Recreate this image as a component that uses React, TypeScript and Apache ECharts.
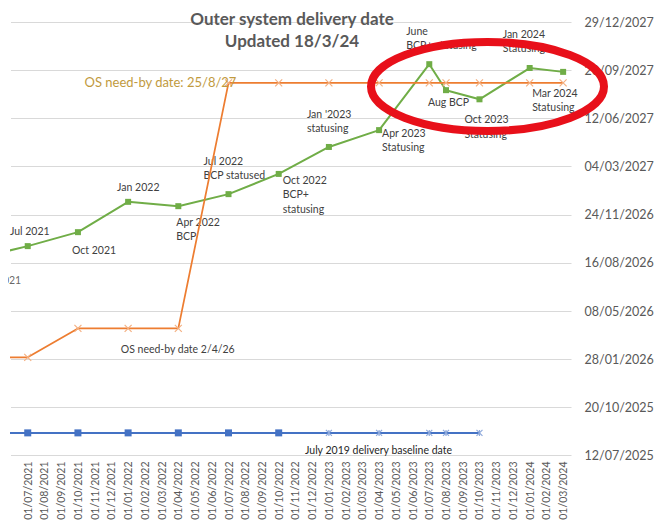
import React, { useEffect, useRef } from 'react';
import * as echarts from 'echarts';

// ---------- axis tick labels ----------
const xTickLabels = [
  '01/06/2021', '01/07/2021', '01/08/2021', '01/09/2021', '01/10/2021', '01/11/2021', '01/12/2021',
  '01/01/2022', '01/02/2022', '01/03/2022', '01/04/2022', '01/05/2022', '01/06/2022',
  '01/07/2022', '01/08/2022', '01/09/2022', '01/10/2022', '01/11/2022', '01/12/2022',
  '01/01/2023', '01/02/2023', '01/03/2023', '01/04/2023', '01/05/2023', '01/06/2023',
  '01/07/2023', '01/08/2023', '01/09/2023', '01/10/2023', '01/11/2023', '01/12/2023',
  '01/01/2024', '01/02/2024', '01/03/2024',
];
const xFirstMonth = '2021-06';
const yTickLabels = [
  '12/07/2025', '20/10/2025', '28/01/2026', '08/05/2026', '16/08/2026',
  '24/11/2026', '04/03/2027', '12/06/2027', '20/09/2027', '29/12/2027',
];
const yAxisOrigin = '2025-07-12';
const yStepDays = 100;

// ---------- series: forecast delivery date (green) ----------
const forecastMonths = [
  '2021-04', '2021-07', '2021-10', '2022-01', '2022-04', '2022-07', '2022-10',
  '2023-01', '2023-04', '2023-07', '2023-08', '2023-10', '2024-01', '2024-03',
];
const forecastDates = [
  '2026-08-26', '2026-09-20', '2026-10-19', '2026-12-21', '2026-12-12', '2027-01-06', '2027-02-17',
  '2027-04-14', '2027-05-19', '2027-10-03', '2027-08-10', '2027-07-22', '2027-09-25', '2027-09-17',
];
const forecastLabels = [
  'Apr 2021', 'Jul 2021', 'Oct 2021', 'Jan 2022', 'Apr 2022\nBCP', 'Jul 2022\nBCP statused',
  'Oct 2022\nBCP+\nstatusing', "Jan '2023\nstatusing", 'Apr 2023\nStatusing', 'June\nBCP+ statusing',
  'Aug BCP', 'Oct 2023\nStatusing', 'Jan 2024\nStatusing', 'Mar 2024\nStatusing',
];

// ---------- series: OS need-by date (orange) ----------
const needByMonths = [
  '2021-04', '2021-07', '2021-10', '2022-01', '2022-04', '2022-07', '2022-10',
  '2023-01', '2023-04', '2023-07', '2023-08', '2023-10', '2024-01', '2024-03',
];
const needByDates = [
  '2026-02-01', '2026-02-01', '2026-04-02', '2026-04-02', '2026-04-02', '2027-08-25', '2027-08-25',
  '2027-08-25', '2027-08-25', '2027-08-25', '2027-08-25', '2027-08-25', '2027-08-25', '2027-08-25',
];
const needByLabels: (string | null)[] = [
  null, null, null, null, 'OS need-by date 2/4/26', 'OS need-by date: 25/8/27', null,
  null, null, null, null, null, null, null,
];

// ---------- series: July 2019 delivery baseline (blue) ----------
const baselineMonths = [
  '2021-04', '2021-07', '2021-10', '2022-01', '2022-04', '2022-07', '2022-10',
  '2023-01', '2023-04', '2023-07', '2023-08', '2023-10',
];
const baselineDates = [
  '2025-08-28', '2025-08-28', '2025-08-28', '2025-08-28', '2025-08-28', '2025-08-28', '2025-08-28',
  '2025-08-28', '2025-08-28', '2025-08-28', '2025-08-28', '2025-08-28',
];
const baselineMarkers = [
  'square', 'square', 'square', 'square', 'square', 'square', 'square',
  'star', 'star', 'star', 'star', 'star',
];
const baselineLabels: (string | null)[] = [
  null, null, null, null, null, null, null, null, 'July 2019 delivery baseline date', null, null, null,
];

// ---------- styling / layout (not data) ----------
const FONT = 'Lato, "Open Sans", sans-serif';
const GREEN = '#70AD47';
const ORANGE = '#ED7D31';
const ORANGE_MARK = '#F4B183';
const BLUE = '#4472C4';
const BLUE_MARK = '#8FAADC';
const TEXT = '#404040';
const AXIS_TEXT = '#595959';
const X_PATH = 'path://M0,0L10,10M10,0L0,10';
const STAR_PATH = 'path://M0,0L10,10M10,0L0,10M5,0L5,10';

// label offsets: [dx, dy, align] relative to the point centre (dy = top of text)
const forecastLabelLayout: [number, number, string][] = [
  [0, 14.5, 'left'], [2, -22.5, 'center'], [-6, 10.5, 'left'], [-11, -22.5, 'left'],
  [-2, 8.5, 'left'], [-25, -40.5, 'left'], [4, -1.5, 'left'], [-22, -40.5, 'left'],
  [3, -4.5, 'left'], [-23, -40.5, 'left'], [-18, 4.5, 'left'], [-15, 12.5, 'left'],
  [-27, -41.5, 'left'], [-31, 13.5, 'left'],
];

const DAY = 86400000;
const parseUTC = (s: string) => {
  const [y, m, d] = s.split('-').map(Number);
  return Date.UTC(y, m - 1, d || 1);
};
const toDays = (s: string) => Math.round((parseUTC(s) - parseUTC(yAxisOrigin)) / DAY);
const toMonthIdx = (s: string) => {
  const [y, m] = s.split('-').map(Number);
  const [y0, m0] = xFirstMonth.split('-').map(Number);
  return (y - y0) * 12 + (m - m0);
};

const smallLabel = { fontFamily: FONT, fontSize: 10.5, color: TEXT, lineHeight: 14.5 };

export default function App() {
  const ref = useRef<HTMLDivElement>(null);
  useEffect(() => {
    if (!ref.current) return;
    const chart = echarts.init(ref.current, null, { renderer: 'svg' });

    const greenSize = 6;
    const greenData = forecastMonths.map((mo, i) => {
      const [dx, dy, align] = forecastLabelLayout[i];
      return {
        value: [toMonthIdx(mo), toDays(forecastDates[i])],
        label: {
          show: i > 0,
          formatter: forecastLabels[i],
          position: [dx + greenSize / 2, dy + greenSize / 2],
          align,
          verticalAlign: 'top',
          ...smallLabel,
        },
      };
    });
    // label of the point that lies left of the plot area (its marker and line are clipped)
    const clippedLabelData = [0].map((i) => {
      const [dx, dy, align] = forecastLabelLayout[i];
      return {
        value: [toMonthIdx(forecastMonths[i]), toDays(forecastDates[i])],
        label: {
          show: true,
          formatter: forecastLabels[i],
          position: [dx + greenSize / 2, dy + greenSize / 2],
          align,
          verticalAlign: 'top',
          ...smallLabel,
        },
      };
    });

    const orangeSize = 7;
    const orangeData = needByMonths.map((mo, i) => {
      const item: any = { value: [toMonthIdx(mo), toDays(needByDates[i])] };
      const txt = needByLabels[i];
      if (txt && txt.includes(':')) {
        item.label = {
          show: true, formatter: txt, position: [orangeSize / 2 + 8.5, orangeSize / 2],
          align: 'right', verticalAlign: 'middle', fontFamily: FONT, fontSize: 13, color: '#C19A3E',
        };
      } else if (txt) {
        item.label = {
          show: true, formatter: txt, position: [orangeSize / 2, orangeSize / 2 + 13.5],
          align: 'center', verticalAlign: 'top', ...smallLabel,
        };
      }
      return item;
    });

    const blueData = baselineMonths.map((mo, i) => {
      const isSquare = baselineMarkers[i] === 'square';
      const size = isSquare ? 7 : 6;
      const item: any = {
        value: [toMonthIdx(mo), toDays(baselineDates[i])],
        symbol: isSquare ? 'rect' : STAR_PATH,
        symbolSize: size,
        itemStyle: isSquare
          ? { color: BLUE, borderWidth: 0 }
          : { color: BLUE_MARK, borderColor: BLUE_MARK, borderWidth: 1.2 },
      };
      const txt = baselineLabels[i];
      if (txt) {
        item.label = {
          show: true, formatter: txt, position: [size / 2, size / 2 + 10.5],
          align: 'center', verticalAlign: 'top', ...smallLabel, color: '#262626',
        };
      }
      return item;
    });

    chart.setOption({
      animation: false,
      backgroundColor: '#ffffff',
      title: {
        text: 'Outer system delivery date\nUpdated 18/3/24',
        left: 287,
        top: 2,
        textAlign: 'center',
        textStyle: { fontFamily: FONT, fontSize: 17, fontWeight: 'bold', color: AXIS_TEXT, lineHeight: 22 },
      },
      grid: { left: 11, right: 84.5, top: 22.3, bottom: 66.5, containLabel: false, outerBoundsMode: 'none' },
      xAxis: {
        type: 'value',
        min: 0,
        max: xTickLabels.length - 0.5,
        interval: 1,
        axisLine: { show: false },
        axisTick: { show: false },
        splitLine: { show: false },
        axisLabel: {
          rotate: 90,
          margin: 6,
          fontFamily: FONT,
          fontSize: 10.5,
          color: AXIS_TEXT,
          formatter: (v: number) => (Number.isInteger(v) && v >= 1 && v < xTickLabels.length ? xTickLabels[v] : ''),
        },
      },
      yAxis: {
        type: 'value',
        position: 'right',
        min: 0,
        max: (yTickLabels.length - 1) * yStepDays,
        interval: yStepDays,
        axisLine: { show: false },
        axisTick: { show: false },
        splitLine: { show: true, lineStyle: { color: '#D9D9D9', width: 1 } },
        axisLabel: {
          margin: 13,
          fontFamily: FONT,
          fontSize: 12.5,
          color: AXIS_TEXT,
          formatter: (v: number) => yTickLabels[Math.round(v / yStepDays)] ?? '',
        },
      },
      series: [
        {
          name: 'Forecast delivery date',
          type: 'line',
          data: greenData,
          symbol: 'rect',
          symbolSize: greenSize,
          itemStyle: { color: GREEN },
          lineStyle: { color: GREEN, width: 2 },
          clip: true,
          z: 3,
        },
        {
          name: 'Forecast label (clipped point)',
          type: 'scatter',
          data: clippedLabelData,
          symbol: 'rect',
          symbolSize: greenSize,
          itemStyle: { color: GREEN },
          clip: false,
          z: 3,
        },
        {
          name: 'July 2019 delivery baseline date',
          type: 'line',
          data: blueData,
          lineStyle: { color: BLUE, width: 2 },
          itemStyle: { color: BLUE },
          clip: true,
          z: 4,
        },
        {
          name: 'OS need-by date',
          type: 'line',
          data: orangeData,
          symbol: X_PATH,
          symbolSize: orangeSize,
          itemStyle: { color: ORANGE_MARK, borderColor: ORANGE_MARK, borderWidth: 1.2 },
          lineStyle: { color: ORANGE, width: 1.75 },
          clip: true,
          z: 5,
        },
      ],
      graphic: [
        {
          type: 'rect',
          shape: { x: 0, y: 15, width: 8, height: 447 },
          style: { fill: '#ffffff' },
          z: 90,
        },
        {
          type: 'ellipse',
          shape: { cx: 487.5, cy: 86.5, rx: 116.5, ry: 44.5 },
          style: { fill: 'transparent', stroke: '#E8101A', lineWidth: 8 },
          z: 100,
        },
      ],
    });
    return () => chart.dispose();
  }, []);
  return (
    <div
      ref={ref}
      style={{ position: 'fixed', left: 0, top: 0, width: 656, height: 522, background: '#fff' }}
    />
  );
}
